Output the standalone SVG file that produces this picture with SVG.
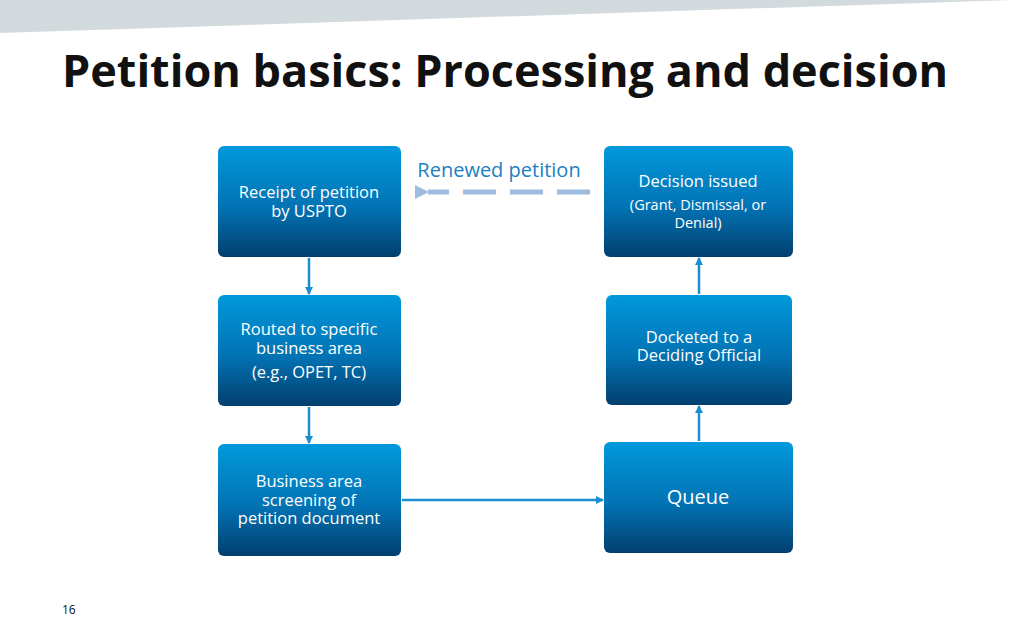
<svg xmlns="http://www.w3.org/2000/svg" width="1024" height="640" viewBox="0 0 1024 640">
<defs>
<linearGradient id="g" x1="0" y1="0" x2="0" y2="1">
<stop offset="0" stop-color="#0199dc"/><stop offset="0.55" stop-color="#0273b4"/><stop offset="1" stop-color="#023f6e"/>
</linearGradient>
<marker id="a" markerWidth="8" markerHeight="8" refX="7" refY="4" orient="auto" markerUnits="userSpaceOnUse"><path d="M0,0 L8,4 L0,8 z" fill="#1a8fd0"/></marker>
<marker id="b" markerWidth="14" markerHeight="14" refX="1" refY="7" orient="auto" markerUnits="userSpaceOnUse"><path d="M14,0 L0,7 L14,14 z" fill="#9dbde0"/></marker>
</defs>
<style>
.box{fill:url(#g)}
.t{font-family:"Open Sans","Noto Sans",sans-serif;fill:#fff;font-size:16.5px;text-anchor:middle}
.s{font-size:14.5px}
.c{stroke:#1a8fd0;stroke-width:2.5;fill:none;marker-end:url(#a)}
</style>
<rect width="1024" height="640" fill="#fff"/>
<polygon points="0,0 1012,0 0,33" fill="#d3dade"/>
<text x="62" y="87" font-family="'Open Sans','Noto Sans',sans-serif" font-weight="bold" font-size="45" fill="#111">Petition basics: Processing and decision</text>
<text x="62" y="614" font-family="'Open Sans',sans-serif" font-size="12" fill="#111">16</text>
<g id="n1"><rect class="box" x="218" y="146" width="183" height="111" rx="6"/><text class="t" x="309" y="198">Receipt of petition</text><text class="t" x="309" y="217">by USPTO</text></g>
<g id="n2"><rect class="box" x="218" y="295" width="183" height="111" rx="6"/><text class="t" x="309" y="335">Routed to specific</text><text class="t" x="309" y="354">business area</text><text class="t" x="309" y="378">(e.g., OPET, TC)</text></g>
<g id="n3"><rect class="box" x="218" y="444" width="183" height="112" rx="6"/><text class="t" x="309" y="487">Business area</text><text class="t" x="309" y="506">screening of</text><text class="t" x="309" y="524">petition document</text></g>
<g id="n4"><rect class="box" x="604" y="442" width="189" height="111" rx="6"/><text class="t" x="698" y="504" style="font-size:20px">Queue</text></g>
<g id="n5"><rect class="box" x="606" y="295" width="186" height="110" rx="6"/><text class="t" x="699" y="343">Docketed to a</text><text class="t" x="699" y="361">Deciding Official</text></g>
<g id="n6"><rect class="box" x="604" y="146" width="189" height="111" rx="6"/><text class="t" x="698" y="187">Decision issued</text><text class="t s" x="698" y="210">(Grant, Dismissal, or</text><text class="t s" x="698" y="228">Denial)</text></g>
<text x="499" y="177" font-family="'Open Sans',sans-serif" font-size="20" fill="#1c7fc0" text-anchor="middle">Renewed petition</text>
<g id="connectors">
<path class="c" d="M309,258 V294"/>
<path class="c" d="M309,407 V443"/>
<path class="c" d="M402,500 H603"/>
<path class="c" d="M699,441 V406"/>
<path class="c" d="M699,294 V258"/>
<path d="M590,192 H428" stroke="#9dbde0" stroke-width="5" stroke-dasharray="33,14" fill="none" marker-end="url(#b)"/>
</g>
</svg>
